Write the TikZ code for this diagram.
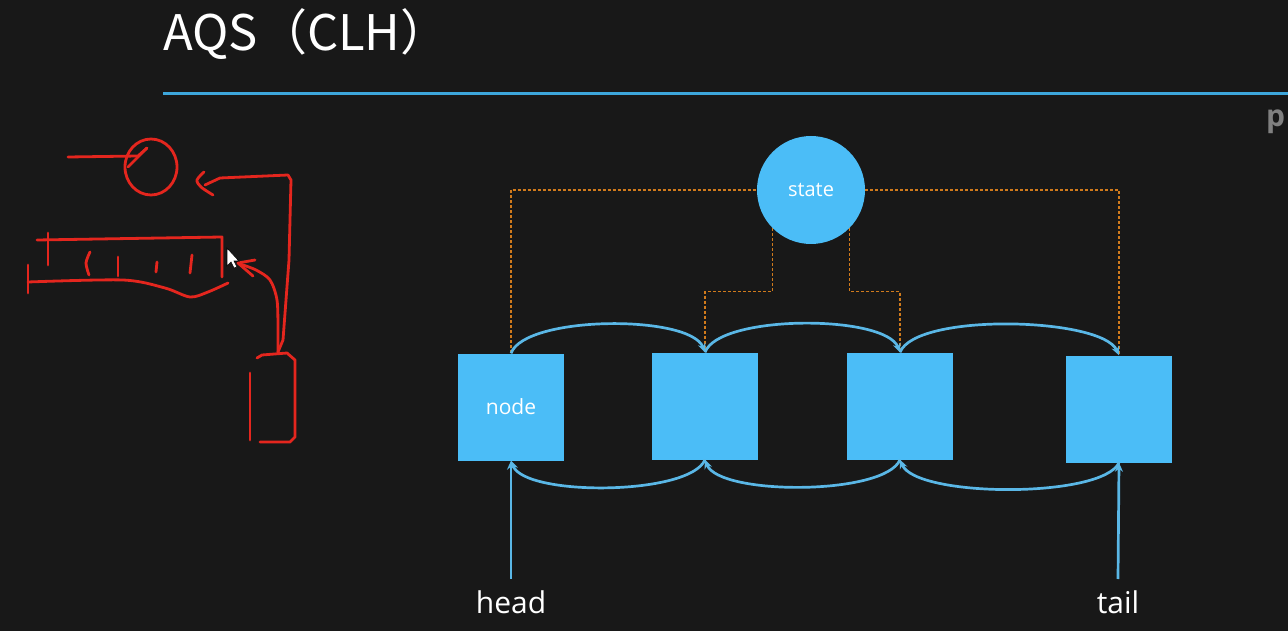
\documentclass[tikz,border=0pt]{standalone}
\usepackage{fontspec}
\setmainfont{Open Sans}
\newfontfamily\cjkfont{Noto Sans CJK SC}
\usepackage{xcolor}
\usepackage{tikz}
\usetikzlibrary{arrows.meta}
\definecolor{board}{HTML}{181818}
\definecolor{qblue}{HTML}{4BBDF7}
\definecolor{linkblue}{HTML}{5AB7E6}
\definecolor{ruleblue}{HTML}{3DA6DB}
\definecolor{ptrorange}{HTML}{D07A1C}
\definecolor{chalkred}{HTML}{E4261E}
\tikzset{
  qnode/.style={rectangle,fill=qblue,minimum width=106pt,minimum height=107pt,inner sep=0pt,text=white,font=\fontsize{21pt}{25pt}\selectfont},
  qstate/.style={circle,fill=qblue,minimum size=108pt,inner sep=0pt,text=white,font=\fontsize{20pt}{24pt}\selectfont},
  link/.style={linkblue,line width=2.7pt,-{Stealth[length=9pt,width=8pt]}},
  ptr/.style={ptrorange,line width=1.3pt,dash pattern=on 3pt off 2pt},
  chalk/.style={chalkred,line width=2.8pt,line cap=round,line join=round},
  lbl/.style={text=white,font=\fontsize{30pt}{36pt}\selectfont,inner sep=0pt}
}
\begin{document}
\begin{tikzpicture}[x=1pt,y=-1pt]
\useasboundingbox (0,0) rectangle (1288,631);
\clip (0,0) rectangle (1288,631);
\fill[board] (0,0) rectangle (1288,631);
% title
\node[anchor=base west,inner sep=0pt,text=white,font=\cjkfont\fontsize{49pt}{58pt}\selectfont] (title) at (163,51) {AQS（CLH）};
\draw[ruleblue,line width=3pt] (163,94) -- (1288,94);
\node[anchor=base west,inner sep=0pt,text=gray,font=\bfseries\fontsize{30pt}{34pt}\selectfont] (cut) at (1266,127) {p};
% red sketch
\draw[chalk] (68,157) -- (138,156) -- (147,148);
\draw[chalk] (128,167) -- (147,148);
\draw[chalk] (151,167) ellipse (26 and 28);
\draw[chalk] plot[smooth] coordinates {(204,172) (197,180) (201,187) (213,195)};
\draw[chalk] (205,185) -- (220,178) -- (288,175) -- (291,180) -- (289,260) -- (283,340) -- (278,352);
\draw[chalk] (37,240) -- (222,237) -- (222,277);
\draw[chalk] (48,233) -- (48,265);
\draw[chalk] plot[smooth] coordinates {(28,282) (123,280) (165,288) (190,297) (208,292) (228,283)};
\draw[chalk] (28,265) -- (28,293);
\draw[chalk] plot[smooth] coordinates {(90,252) (86,263) (89,275)};
\draw[chalk] (118,257) -- (118,276);
\draw[chalk] (157,262) -- (156,272);
\draw[chalk] (192,255) -- (190,273);
\draw[chalk] plot[smooth] coordinates {(240,264) (256,270) (270,280) (277,300) (278,330) (278,352)};
\draw[chalk] (238,263) -- (255,260);
\draw[chalk] (238,263) -- (253,276);
\draw[chalk] (257,358) -- (262,355) -- (287,353) -- (295,360) -- (295,437) -- (290,442) -- (260,442);
\draw[chalk] (250,373) -- (250,440);
\fill[white,draw=black,line width=0.6pt] (227,248) -- (227,266) -- (231,262) -- (234,268) -- (237,267) -- (234,261) -- (239,261) -- cycle;
% queue
\node[qstate] (st) at (811,190) {state};
\node[qnode] (n1) at (511,407) {node};
\node[qnode] (n2) at (705,406) {};
\node[qnode] (n3) at (900,406) {};
\node[qnode] (n4) at (1119,409) {};
% pointers to state
\draw[ptr] (n1.north) -- (n1.north |- st.west) -- (st.west);
\draw[ptr] (st.east) -- (n4.north |- st.east) -- (n4.north);
\draw[ptr] (st.-135) -- ++(0,63) -| (n2.north);
\draw[ptr] (st.-45) -- ++(0,63) -| (n3.north);
% next / prev
\draw[link] (n1.north) .. controls +(14,-38) and +(-15,-38) .. (n2.north);
\draw[link] (n2.north) .. controls +(14,-38) and +(-15,-38) .. (n3.north);
\draw[link] (n3.north) .. controls +(16,-40) and +(-17,-38) .. (n4.north);
\draw[link] (n2.south) .. controls +(-15,36) and +(14,36) .. (n1.south);
\draw[link] (n3.south) .. controls +(-15,36) and +(14,36) .. (n2.south);
\draw[link] (n4.south) .. controls +(-17,36) and +(16,38) .. (n3.south);
% head / tail
\node[lbl,anchor=base] (head) at (511,613) {head};
\node[lbl,anchor=base] (tail) at (1118,613) {tail};
\coordinate (h0) at (511,579);
\coordinate (t0) at (1118,579);
\draw[link] (h0) -- (n1.south);
\draw[link] (t0) -- (n4.south);
\end{tikzpicture}
\end{document}
